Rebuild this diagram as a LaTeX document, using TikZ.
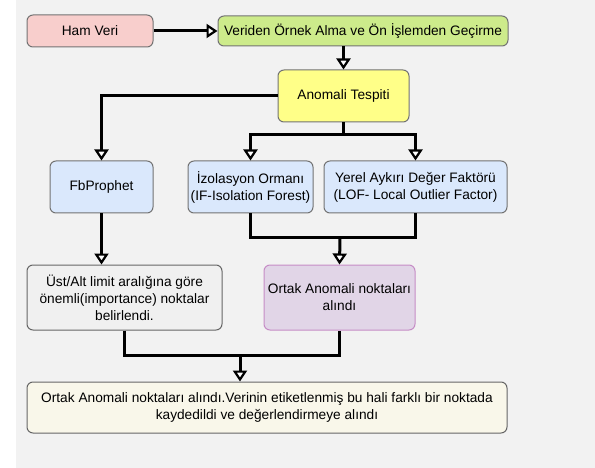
\documentclass[tikz,border=0pt]{standalone}
\usepackage{fontspec}
\setmainfont{Liberation Sans}
\usetikzlibrary{arrows.meta}

\definecolor{bgray}{HTML}{F2F2F2}
\definecolor{cpink}{HTML}{F8CECC}
\definecolor{cgreen}{HTML}{CDEB8B}
\definecolor{cyellow}{HTML}{FFFF88}
\definecolor{cblue}{HTML}{DAE8FC}
\definecolor{cgray}{HTML}{F0F0F0}
\definecolor{cpurple}{HTML}{E1D5E7}
\definecolor{ccream}{HTML}{F9F7EA}

\begin{document}
\begin{tikzpicture}[x=1pt,y=-1pt,
    box/.style={draw=#1,line width=1pt,rounded corners=6pt,align=center,
      inner sep=0pt,font=\fontsize{13.7}{17}\selectfont},
    box/.default=black!60,
    flow/.style={line width=3pt},
    arr/.style={line width=3pt,-{Triangle[open,length=11pt,width=14pt,fill=white,line width=2.2pt]}}]
        % the gray background
        \useasboundingbox (0,0) rectangle (595,468);
        \fill[bgray] (16,0) rectangle (595,468);

        % the boxes
        \node[box=black!55,fill=cpink,minimum width=126pt,minimum height=32pt] (ham) at (90,31) {Ham Veri};
        \node[box=black!55,fill=cgreen,minimum width=290pt,minimum height=30pt] (ornek) at (363,31) {Veriden Örnek Alma ve Ön İşlemden Geçirme};
        \node[box=black!55,fill=cyellow,minimum width=131pt,minimum height=52pt] (tespit) at (343.5,96) {Anomali Tespiti};
        \node[box=black!55,fill=cblue,minimum width=103pt,minimum height=52pt] (fb) at (101.5,187) {FbProphet};
        \node[box=black!55,fill=cblue,minimum width=125pt,minimum height=52pt] (iso) at (250.5,187) {İzolasyon Ormanı\\(IF-Isolation Forest)};
        \node[box=black!55,fill=cblue,minimum width=183pt,minimum height=52pt] (lof) at (415.5,187) {Yerel Aykırı Değer Faktörü\\(LOF- Local Outlier Factor)};
        \node[box=black!60,fill=cgray,minimum width=195pt,minimum height=65pt] (ust) at (124.5,297.5) {Üst/Alt limit aralığına göre\\önemli(importance) noktalar\\belirlendi.};
        \node[box=violet!45,fill=cpurple,minimum width=151pt,minimum height=65pt] (ortak) at (339.5,297.5) {Ortak Anomali noktaları\\alındı};
        \node[box=black!60,fill=ccream,minimum width=480pt,minimum height=51pt] (son) at (267,407.5) {Ortak Anomali noktaları alındı.Verinin etiketlenmiş bu hali farklı bir noktada\\kaydedildi ve değerlendirmeye alındı};

        % the split and join points
        \coordinate (s1) at (343.5,135);
        \coordinate (j1) at (340,238);
        \coordinate (j2) at (240,355);

        % the connectors
        \draw[arr] (ham) -- (ornek);
        \draw[arr] (tespit.north |- ornek.south) -- (tespit.north);
        \draw[arr] (tespit.west) -| (fb.north);
        \draw[flow] (tespit.south) -- (s1);
        \draw[arr] (s1) -| (iso.north);
        \draw[arr] (s1) -| (lof.north);
        \draw[flow] (iso.south) |- (j1) -| (lof.south);
        \draw[arr] (j1) -- (ortak.north);
        \draw[arr] (fb.south) -- (fb.south |- ust.north);
        \draw[flow] (ust.south) |- (j2) -| (ortak.south);
        \draw[arr] (j2) -- (j2 |- son.north);
    \end{tikzpicture}
\end{document}
